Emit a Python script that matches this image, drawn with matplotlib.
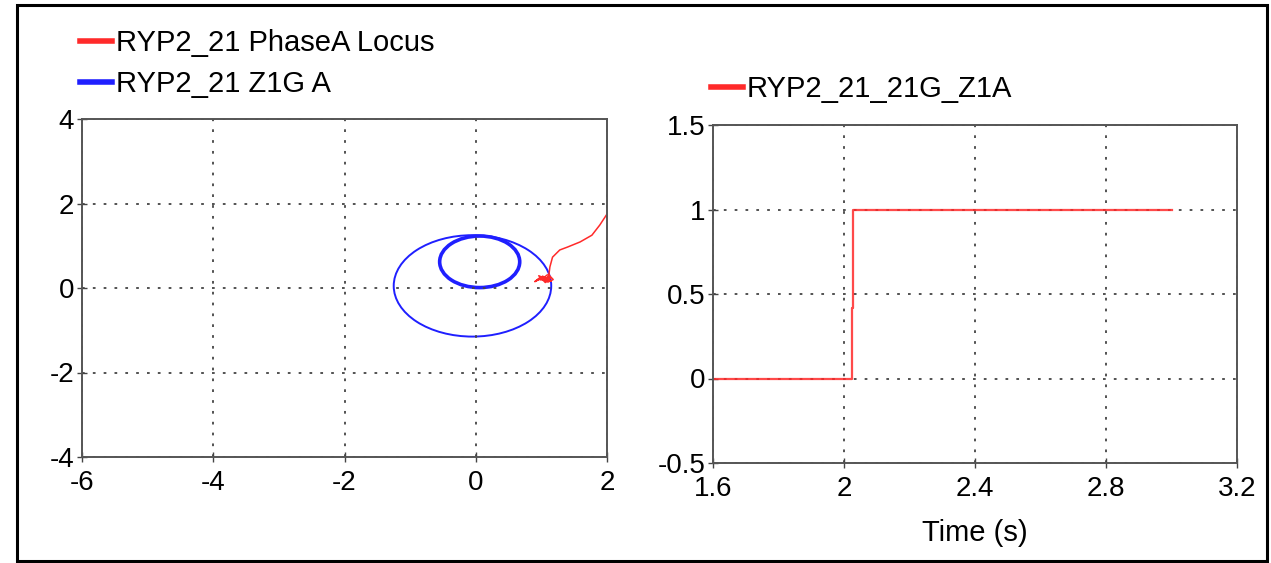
import matplotlib.pyplot as plt
from matplotlib.patches import Circle, Rectangle
from matplotlib.lines import Line2D

plt.rcParams['font.family'] = ['Liberation Sans', 'DejaVu Sans']

# impedance locus (R, X) of phase A
locus_x = [2.0, 1.89, 1.77, 1.59, 1.40, 1.28, 1.17, 1.13, 1.11, 1.08, 1.02, 0.95, 0.90,
           0.98, 1.05, 1.12, 1.18, 1.10, 1.00, 0.92, 1.03, 1.15, 1.08, 0.96, 1.06, 1.14,
           0.99, 1.09]
locus_y = [1.75, 1.49, 1.25, 1.09, 0.97, 0.90, 0.73, 0.50, 0.26, 0.22, 0.28, 0.20, 0.15,
           0.25, 0.18, 0.30, 0.20, 0.14, 0.22, 0.17, 0.26, 0.16, 0.21, 0.29, 0.13, 0.24,
           0.19, 0.31]

# zone 1 ground characteristics: (centre x, centre y, radius)
zone_outer = (-0.05, 0.05, 1.2)
zone_inner = (0.06, 0.62, 0.61)

# trip signal 21G_Z1A
t = [1.6, 2.024, 2.024, 2.029, 2.029, 3.0]
z1a = [0, 0, 0.42, 0.42, 1, 1]

left_xticks = [-6, -4, -2, 0, 2]
left_yticks = [-4, -2, 0, 2, 4]
right_xticks = [1.6, 2, 2.4, 2.8, 3.2]
right_yticks = [-0.5, 0, 0.5, 1, 1.5]

RED = '#ff2a2a'
BLUE = '#1f1fff'
W, H = 1271, 563

fig = plt.figure(figsize=(W / 100, H / 100), dpi=100)
fig.patches.append(Rectangle((17 / W, 1 - 561 / H), 1250 / W, 556 / H, transform=fig.transFigure,
                             fill=False, edgecolor='black', lw=2.2))

ax1 = fig.add_axes([82 / W, 1 - 457 / H, 525 / W, 338 / H])
ax2 = fig.add_axes([713 / W, 1 - 463 / H, 524 / W, 338 / H])


def style(ax, xt, yt):
    ax.set_xticks(xt)
    ax.set_yticks(yt)
    ax.set_xticklabels(['%g' % v for v in xt])
    ax.set_yticklabels(['%g' % v for v in yt])
    ax.set_xlim(xt[0], xt[-1])
    ax.set_ylim(yt[0], yt[-1])
    ax.grid(True, color='#444444', linestyle=(0, (1.5, 4.5)), lw=1.3)
    ax.tick_params(direction='inout', length=7, width=1, color='#444444',
                   labelsize=20, pad=2)
    ax.tick_params(axis='x', pad=6)
    for s in ax.spines.values():
        s.set_color('#555555')
        s.set_linewidth(1.4)


style(ax1, left_xticks, left_yticks)
style(ax2, right_xticks, right_yticks)

ax1.add_patch(Circle(zone_outer[:2], zone_outer[2], fill=False, edgecolor=BLUE, lw=1.4))
ax1.add_patch(Circle(zone_inner[:2], zone_inner[2], fill=False, edgecolor=BLUE, lw=2.6))
ax1.plot(locus_x, locus_y, color=RED, lw=1.1, clip_on=True)

ax2.plot(t, z1a, color=RED, lw=1.6, alpha=0.85)
ax2.set_xlabel('Time (s)', fontsize=21, labelpad=12)

h1 = [Line2D([], [], color=RED, lw=4), Line2D([], [], color=BLUE, lw=4)]
ax1.legend(h1, ['RYP2_21 PhaseA Locus', 'RYP2_21 Z1G A'], loc='upper left',
           bbox_to_anchor=(80 / W, 1 - 29 / H), bbox_transform=fig.transFigure,
           frameon=False, fontsize=21, handlelength=1.1, handletextpad=0.12,
           borderpad=0, borderaxespad=0, labelspacing=0.45)
ax2.legend([Line2D([], [], color=RED, lw=4)], ['RYP2_21_21G_Z1A'], loc='upper left',
           bbox_to_anchor=(711 / W, 1 - 75 / H), bbox_transform=fig.transFigure,
           frameon=False, fontsize=21, handlelength=1.1, handletextpad=0.12,
           borderpad=0, borderaxespad=0)

fig.savefig('out.png', dpi=100)
